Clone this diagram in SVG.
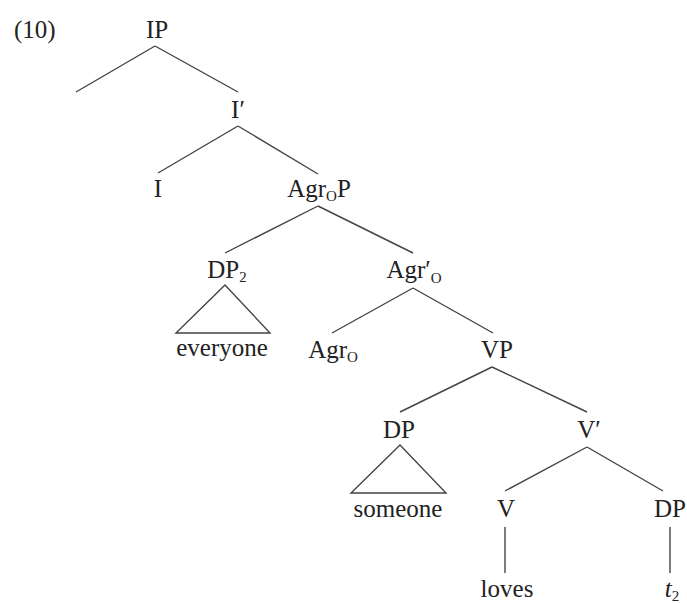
<svg xmlns="http://www.w3.org/2000/svg" width="687" height="603" viewBox="0 0 687 603">
<style>
text{font-family:"Liberation Serif","Times New Roman",serif;font-size:25px;fill:#222;text-anchor:middle}
.sub{font-size:15px}
.it{font-style:italic}
line,polygon{stroke:#444;stroke-width:1.4;fill:none}
</style>
<rect width="687" height="603" fill="#fff"/>
<g id="connectors">
<line x1="155" y1="46" x2="76" y2="92"/>
<line x1="155" y1="46" x2="238" y2="92"/>
<line x1="238" y1="126" x2="158" y2="173"/>
<line x1="238" y1="126" x2="318" y2="174"/>
<line x1="318" y1="206" x2="225" y2="253"/>
<line x1="318" y1="206" x2="413" y2="253"/>
<line x1="413" y1="288" x2="332" y2="333"/>
<line x1="413" y1="288" x2="493" y2="333"/>
<line x1="492" y1="367" x2="400" y2="412"/>
<line x1="492" y1="367" x2="587" y2="412"/>
<line x1="587" y1="447" x2="505" y2="491"/>
<line x1="587" y1="447" x2="663" y2="491"/>
<line x1="505" y1="527" x2="505" y2="573"/>
<line x1="670" y1="527" x2="670" y2="573"/>
<polygon points="225,285 176,333 270,333"/>
<polygon points="400,445 351,493 446,493"/>
</g>
<g id="label"><text x="14" y="38" style="text-anchor:start">(10)</text></g>
<g id="IP"><text x="157" y="38">IP</text></g>
<g id="Ibar"><text x="238" y="118">I′</text></g>
<g id="I"><text x="158" y="197">I</text></g>
<g id="AgrOP"><text x="319" y="197">Agr<tspan class="sub" dy="4">O</tspan><tspan dy="-4">P</tspan></text></g>
<g id="DP2"><text x="227" y="278">DP<tspan class="sub" dy="4">2</tspan></text></g>
<g id="everyone"><text x="222" y="356">everyone</text></g>
<g id="AgrObar"><text x="414" y="278">Agr′<tspan class="sub" dy="5">O</tspan></text></g>
<g id="AgrO"><text x="333" y="358">Agr<tspan class="sub" dy="4">O</tspan></text></g>
<g id="VP"><text x="497" y="358">VP</text></g>
<g id="DP"><text x="399" y="438">DP</text></g>
<g id="Vbar"><text x="589" y="438">V′</text></g>
<g id="someone"><text x="398" y="517">someone</text></g>
<g id="V"><text x="506" y="517">V</text></g>
<g id="DPt"><text x="670" y="517">DP</text></g>
<g id="loves"><text x="507" y="597">loves</text></g>
<g id="t2"><text x="672" y="597"><tspan class="it">t</tspan><tspan class="sub" dy="4">2</tspan></text></g>
</svg>
